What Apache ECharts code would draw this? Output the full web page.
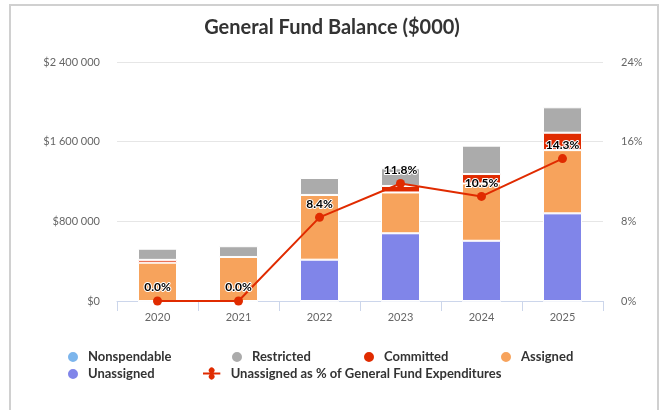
<!DOCTYPE html>
<html>
<head>
<meta charset="utf-8">
<script src="https://cdn.jsdelivr.net/npm/echarts@6/dist/echarts.min.js"></script>
<style>
  html, body { margin: 0; padding: 0; background: #fff; }
  #frame { position: absolute; left: 9px; top: 4px; width: 650px; height: 420px; border: 2px solid #d0d0d0; box-sizing: border-box; }
  #chart { position: absolute; left: 0; top: 0; width: 664px; height: 410px; }
</style>
</head>
<body>
<div id="frame"></div>
<div id="chart"></div>
<script>
// chart data
const years = ['2020', '2021', '2022', '2023', '2024', '2025'];
const nonspendable = [0, 0, 0, 0, 0, 0];
const restricted = [112000, 108000, 170000, 178000, 285000, 255000];
const committed = [28000, 0, 0, 65000, 95000, 175000];
const assigned = [385000, 442000, 650000, 410000, 575000, 635000];
const unassigned = [0, 0, 415000, 680000, 605000, 880000];
const unassignedPct = [0, 0, 8.4, 11.8, 10.5, 14.3];
const leftTicks = [0, 800000, 1600000, 2400000];
const rightTicks = [0, 8, 16, 24];

const colors = {
  nonspendable: '#7cb5ec',
  restricted: '#ababab',
  committed: '#e02b00',
  assigned: '#f7a35c',
  unassigned: '#8085e9'
};

function fmtMoney(v) {
  return '$' + String(v).replace(/\B(?=(\d{3})+(?!\d))/g, ' ');
}

const legendText = { fontFamily: 'Lato', fontWeight: 'bold', fontSize: 13, color: '#333333', padding: [0, 0, 0, 4] };
function legendAt(name, left, top, icon) {
  return {
    data: [{ name: name, icon: icon || 'circle' }],
    left: left, top: top,
    padding: 0,
    itemWidth: icon ? 20 : 12, itemHeight: 12,
    itemGap: 0,
    textStyle: legendText,
    selectedMode: false
  };
}

function barSeries(name, data, color) {
  return {
    name: name,
    type: 'bar',
    stack: 'fund',
    data: data,
    barWidth: 39,
    itemStyle: { color: color, borderColor: '#fff', borderWidth: 1 },
    emphasis: { disabled: true }
  };
}

const myChart = echarts.init(document.getElementById('chart'));
const option = {
  animation: false,
  title: {
    text: 'General Fund Balance ($000)',
    left: 'center',
    top: 13,
    textStyle: { fontFamily: 'Lato', fontWeight: 'bold', fontSize: 20, color: '#333333' }
  },
  legend: [
    legendAt('Nonspendable', 66, 350),
    legendAt('Restricted', 230, 350),
    legendAt('Committed', 362, 350),
    legendAt('Assigned', 499, 350),
    legendAt('Unassigned', 66, 367),
    legendAt('Unassigned as % of General Fund Expenditures', 203, 367, 'path://M0,5 L7,5 A3,3 0 1,1 11,5 L18,5 L18,7 L11,7 A3,3 0 1,1 7,7 L0,7 Z')
  ],
  grid: { left: 117, right: 61, top: 62, bottom: 109 },
  xAxis: {
    type: 'category',
    data: years,
    axisLine: { lineStyle: { color: '#ccd6eb' } },
    axisTick: { show: true, length: 10, lineStyle: { color: '#ccd6eb' } },
    axisLabel: { fontFamily: 'Lato', fontSize: 11, color: '#666666', margin: 11 }
  },
  yAxis: [
    {
      type: 'value',
      min: leftTicks[0],
      max: leftTicks[leftTicks.length - 1],
      interval: leftTicks[1] - leftTicks[0],
      axisLabel: { fontFamily: 'Lato', fontSize: 11, color: '#666666', margin: 17, formatter: fmtMoney },
      splitLine: { lineStyle: { color: '#e6e6e6' } },
      axisLine: { show: false },
      axisTick: { show: false }
    },
    {
      type: 'value',
      min: rightTicks[0],
      max: rightTicks[rightTicks.length - 1],
      interval: rightTicks[1] - rightTicks[0],
      axisLabel: { fontFamily: 'Lato', fontSize: 11, color: '#666666', margin: 18, formatter: '{value}%' },
      splitLine: { show: false },
      axisLine: { show: false },
      axisTick: { show: false }
    }
  ],
  series: [
    barSeries('Nonspendable', nonspendable, colors.nonspendable),
    barSeries('Unassigned', unassigned, colors.unassigned),
    barSeries('Assigned', assigned, colors.assigned),
    barSeries('Committed', committed, colors.committed),
    barSeries('Restricted', restricted, colors.restricted),
    {
      name: 'Unassigned as % of General Fund Expenditures',
      type: 'line',
      yAxisIndex: 1,
      data: unassignedPct,
      color: colors.committed,
      symbol: 'circle',
      symbolSize: 9,
      lineStyle: { width: 2, color: colors.committed },
      itemStyle: { color: colors.committed },
      label: {
        show: true,
        position: 'top',
        distance: 3,
        formatter: (p) => p.value.toFixed(1) + '%',
        fontFamily: 'Lato',
        fontWeight: 'bold',
        fontSize: 12,
        color: '#000000',
        textBorderColor: '#ffffff',
        textBorderWidth: 2
      },
      z: 5
    }
  ]
};
myChart.setOption(option);
</script>
</body>
</html>
